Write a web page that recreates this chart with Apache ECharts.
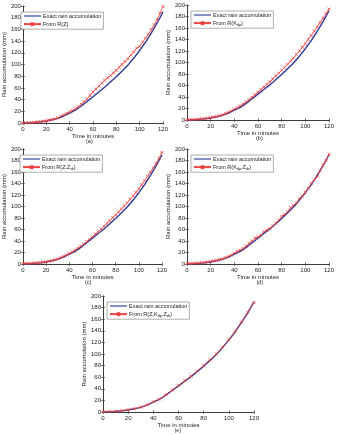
<!DOCTYPE html>
<html>
<head>
<meta charset="utf-8">
<script src="https://cdn.jsdelivr.net/npm/echarts@6/dist/echarts.min.js"></script>
<style>
  html, body { margin: 0; padding: 0; background: #fff; }
  #chart { width: 337px; height: 435px; }
</style>
</head>
<body>
<div id="chart"></div>
<script>
var minutesFine = [0, 2.5, 5, 7.5, 10, 12.5, 15, 17.5, 20, 22.5, 25, 27.5, 30, 32.5, 35, 37.5, 40, 42.5, 45, 47.5, 50, 52.5, 55, 57.5, 60, 62.5, 65, 67.5, 70, 72.5, 75, 77.5, 80, 82.5, 85, 87.5, 90, 92.5, 95, 97.5, 100, 102.5, 105, 107.5, 110, 112.5, 115, 117.5, 120]
var minutes5 = [0, 5, 10, 15, 20, 25, 30, 35, 40, 45, 50, 55, 60, 65, 70, 75, 80, 85, 90, 95, 100, 105, 110, 115, 120]

var exactRain = [0, 0.3, 1, 2, 3.5, 5.5, 8, 12, 17, 22, 29, 37, 45, 53, 61, 70, 79, 89, 99, 111, 124, 138, 154, 171, 190]

var fromZ = [0, 0.2, 0.5, 0.8, 1.2, 1.7, 2.3, 3, 3.8, 4.8, 5.9, 7.2, 8.8, 11.5, 14, 16.5, 19, 21.5, 24.5, 28, 32, 36.5, 41.5, 47, 53, 58, 63, 68, 73, 77, 81, 85.5, 90, 95, 100, 105, 110, 116, 122, 128, 131, 138, 145, 152, 160, 168, 177, 188, 199]
var fromKdp = [0.5, 0.6, 0.8, 1.1, 1.5, 2, 2.6, 3.3, 4.2, 5.2, 6.3, 7.5, 9, 11.2, 13.5, 16, 18.7, 21.5, 24.5, 28, 31.5, 35.5, 39.5, 44, 48.5, 53, 57.5, 62, 66.5, 71.5, 76.5, 81.5, 86.5, 91.5, 97, 102.5, 108, 114, 120, 126.5, 133, 140, 147, 154.5, 162, 169.5, 177, 185, 193]
var fromZZdr = [1, 1, 1.1, 1.3, 1.6, 2, 2.5, 3.2, 4, 5, 6, 7.3, 8.8, 11, 13.3, 15.8, 18.3, 21, 24, 27.5, 31, 35, 39, 43, 47.5, 52, 56.5, 61, 65.5, 70.5, 75.5, 80.5, 85.5, 90.5, 96, 101, 106.5, 112.5, 118.5, 124.5, 131, 138, 145, 152.5, 160, 167.5, 175, 184, 194]
var fromKdpZdr = [1, 1, 1.2, 1.5, 1.8, 2.3, 3, 3.6, 4.5, 5.5, 6.5, 7.8, 9, 11, 13, 15.5, 19, 22, 24, 27, 31, 36, 40, 45, 47, 50, 56, 59, 62, 66, 71, 76, 83, 86, 91, 98, 102, 106, 114, 118, 125, 132, 140, 146, 152, 162, 172, 180, 191]
var fromZKdpZdr = [1, 1, 1.5, 2.5, 4, 5.8, 8.3, 12.5, 17.5, 22.5, 30, 38, 46, 54, 62, 71, 80, 90, 100, 112, 125, 139, 155, 172, 189]

var panelNames = ['From R(Z)', 'From R(Kdp)', 'From R(Z,Zdr)', 'From R(Kdp,Zdr)', 'From R(Z,Kdp,Zdr)']
var panelLabels = ['{n|From R(Z)}', '{n|From R(K}{s|dp}{n|)}', '{n|From R(Z,Z}{s|dr}{n|)}', '{n|From R(K}{s|dp}{n|,Z}{s|dr}{n|)}', '{n|From R(Z,K}{s|dp}{n|,Z}{s|dr}{n|)}']
var panelTags = ['(a)', '(b)', '(c)', '(d)', '(e)']

var FONT = 'Liberation Sans'
var BLUE = '#2a3a94'
var RED = '#ee4444'

var grids = [
  { left: 17, top: 6, width: 146, height: 117 },
  { left: 187, top: 5, width: 146, height: 115 },
  { left: 16, top: 149, width: 146, height: 115 },
  { left: 187, top: 149, width: 147, height: 115 },
  { left: 103, top: 296, width: 151, height: 116 }
]

function pairs(xs, ys) {
  return xs.map(function (x, i) { return [x, ys[i]] })
}

var redData = [
  pairs(minutesFine, fromZ),
  pairs(minutesFine, fromKdp),
  pairs(minutesFine, fromZZdr),
  pairs(minutesFine, fromKdpZdr),
  pairs(minutes5, fromZKdpZdr)
]

var xSym = 'path://M0,0L10,10M10,0L0,10'
var lineIcon = 'path://M0,0L24,0L24,1.6L0,1.6Z'
var lineAxis = { lineStyle: { color: '#333', width: 0.8 } }
var tickIn = { inside: true, length: 2, lineStyle: { color: '#333', width: 0.6 } }

var xAxes = []
var yAxes = []
var series = []
var legends = []
var graphics = []

grids.forEach(function (g, i) {
  xAxes.push({
    gridIndex: i, type: 'value', min: 0, max: 120, interval: 20, position: 'bottom',
    axisLine: lineAxis, axisTick: tickIn, splitLine: { show: false },
    axisLabel: { fontFamily: FONT, fontSize: 6, color: '#222', margin: 3 },
    name: 'Time in minutes', nameLocation: 'middle', nameGap: 10,
    nameTextStyle: { fontFamily: FONT, fontSize: 6, color: '#222' }
  })
  xAxes.push({
    gridIndex: i, type: 'value', min: 0, max: 120, interval: 20, position: 'top',
    axisLine: lineAxis, axisTick: tickIn, axisLabel: { show: false }, splitLine: { show: false }
  })
  yAxes.push({
    gridIndex: i, type: 'value', min: 0, max: 200, interval: 20, position: 'left',
    axisLine: lineAxis, axisTick: tickIn, splitLine: { show: false },
    axisLabel: { fontFamily: FONT, fontSize: 6, color: '#222', margin: 2 },
    name: 'Rain accumulation (mm)', nameLocation: 'middle', nameGap: 13,
    nameTextStyle: { fontFamily: FONT, fontSize: 6, color: '#222' }
  })
  yAxes.push({
    gridIndex: i, type: 'value', min: 0, max: 200, interval: 20, position: 'right',
    axisLine: lineAxis, axisTick: tickIn, axisLabel: { show: false }, splitLine: { show: false }
  })

  series.push({
    name: 'Exact rain accumulation',
    type: 'line',
    xAxisIndex: 2 * i,
    yAxisIndex: 2 * i,
    data: pairs(minutes5, exactRain),
    showSymbol: false,
    symbol: 'none',
    lineStyle: { color: BLUE, width: 1.4 },
    itemStyle: { color: BLUE },
    z: 2
  })
  series.push({
    name: panelNames[i],
    type: 'line',
    xAxisIndex: 2 * i,
    yAxisIndex: 2 * i,
    data: redData[i],
    symbol: xSym,
    symbolSize: 3,
    lineStyle: { color: RED, width: 0.8 },
    itemStyle: { color: 'none', borderColor: RED, borderWidth: 0.8 },
    z: 3
  })

  var labels = {}
  labels['Exact rain accumulation'] = '{n|Exact rain accumulation}'
  labels[panelNames[i]] = panelLabels[i]
  legends.push({
    data: [
      { name: 'Exact rain accumulation', icon: lineIcon, itemStyle: { color: BLUE } },
      { name: panelNames[i] }
    ],
    orient: 'vertical',
    left: g.left + 4,
    top: g.top + 6,
    backgroundColor: '#fff',
    borderColor: '#777',
    borderWidth: 0.6,
    borderRadius: 0,
    padding: [1, 2, 1, 2],
    itemGap: 1,
    itemWidth: 17,
    itemHeight: 4,
    selectedMode: false,
    formatter: function (name) { return labels[name] },
    textStyle: {
      fontFamily: FONT,
      fontSize: 5.5,
      color: '#222',
      padding: [0, 0, 0, -3],
      rich: {
        n: { fontFamily: FONT, fontSize: 5.5, color: '#222' },
        s: { fontFamily: FONT, fontSize: 3.8, color: '#222', padding: [3, 0, 0, 0] }
      }
    }
  })

  graphics.push({
    type: 'text',
    left: g.left + g.width / 2 - 4,
    top: g.top + g.height + 15,
    style: { text: panelTags[i], font: '5.5px ' + FONT, fill: '#222' }
  })
})

var chart = echarts.init(document.getElementById('chart'), null, { renderer: 'canvas' })
chart.setOption({
  animation: false,
  grid: grids,
  xAxis: xAxes,
  yAxis: yAxes,
  legend: legends,
  series: series,
  graphic: graphics
})
</script>
</body>
</html>
